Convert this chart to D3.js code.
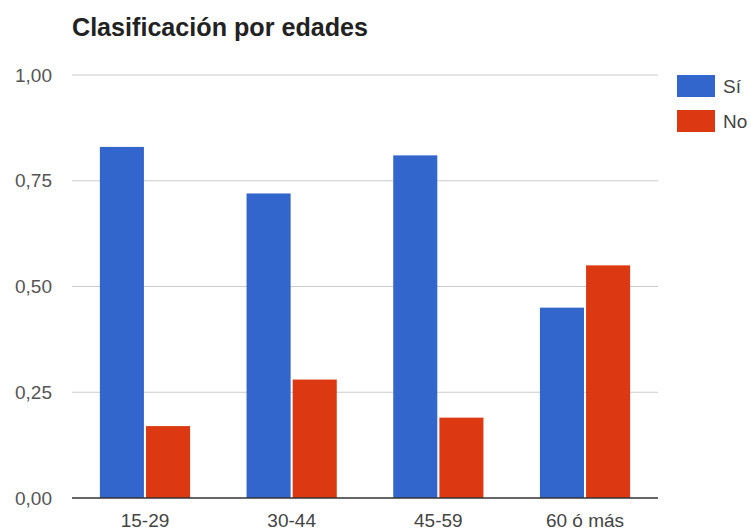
<!DOCTYPE html>
<html><head><meta charset="utf-8">
<script src="https://cdn.jsdelivr.net/npm/d3@7"></script>
<style>body{margin:0;background:#fff;} svg{display:block;}</style>
</head><body>
<script>
const categories = ["15-29", "30-44", "45-59", "60 ó más"];
const seriesNames = ["Sí", "No"];
const siValues = [0.83, 0.72, 0.81, 0.45];
const noValues = [0.17, 0.28, 0.19, 0.55];
const yTicks = [0, 0.25, 0.5, 0.75, 1];
const colors = ["#3366cc", "#dc3912"];

(function () {
const W = 751, H = 532;
const mLeft = 72, mRight = 658, mTop = 75, mBottom = 498;
const svg = d3.select("body").append("svg").attr("width", W).attr("height", H);
const font = "'Liberation Sans', Arial, sans-serif";

const x0 = d3.scaleBand().domain(categories).range([mLeft, mRight]).paddingInner(0.385).paddingOuter(0.19);
const x1 = d3.scaleBand().domain(seriesNames).range([0, x0.bandwidth()]).paddingInner(0.045);
const y = d3.scaleLinear().domain([0, 1]).range([mBottom, mTop]);

// gridlines
svg.append("g").selectAll("line").data(yTicks.filter(d => d > 0)).join("line")
  .attr("x1", mLeft).attr("x2", mRight)
  .attr("y1", d => y(d)).attr("y2", d => y(d))
  .attr("stroke", "#cccccc").attr("stroke-width", 1.2);

// y axis labels
const fmt = d => d3.format(".2f")(d).replace(".", ",");
const yAxis = d3.axisLeft(y).tickValues(yTicks).tickFormat(fmt).tickSize(0).tickPadding(20);
const ya = svg.append("g").attr("transform", `translate(${mLeft},0)`).call(yAxis);
ya.select(".domain").remove();
ya.selectAll("text").attr("font-family", font).attr("font-size", 19).attr("fill", "#555");

// bars
const data = categories.map((c, i) => ({cat: c, vals: [siValues[i], noValues[i]]}));
const g = svg.append("g").selectAll("g").data(data).join("g")
  .attr("transform", d => `translate(${x0(d.cat)},0)`);
g.selectAll("rect").data(d => d.vals.map((v, j) => ({name: seriesNames[j], v, j}))).join("rect")
  .attr("x", d => x1(d.name)).attr("width", x1.bandwidth())
  .attr("y", d => y(d.v)).attr("height", d => mBottom - y(d.v))
  .attr("fill", d => colors[d.j]);

// baseline
svg.append("line").attr("x1", mLeft).attr("x2", mRight).attr("y1", mBottom).attr("y2", mBottom)
  .attr("stroke", "#333").attr("stroke-width", 1.5);

// x axis labels
const xAxis = d3.axisBottom(x0).tickSize(0).tickPadding(16);
const xa = svg.append("g").attr("transform", `translate(0,${mBottom})`).call(xAxis);
xa.select(".domain").remove();
xa.selectAll("text").attr("font-family", font).attr("font-size", 19).attr("fill", "#444");

// title
svg.append("text").attr("x", mLeft).attr("y", 36).text("Clasificación por edades")
  .attr("font-family", font).attr("font-weight", "bold").attr("font-size", 25).attr("fill", "#222")
  .attr("textLength", 296).attr("lengthAdjust", "spacingAndGlyphs");

// legend
const lg = svg.append("g").selectAll("g").data(seriesNames).join("g")
  .attr("transform", (d, i) => `translate(677,${75 + i * 35})`);
lg.append("rect").attr("width", 38).attr("height", 22).attr("fill", (d, i) => colors[i]);
lg.append("text").attr("x", 46).attr("y", 18).text(d => d)
  .attr("font-family", font).attr("font-size", 19).attr("fill", "#444");
})();
</script>
</body></html>
